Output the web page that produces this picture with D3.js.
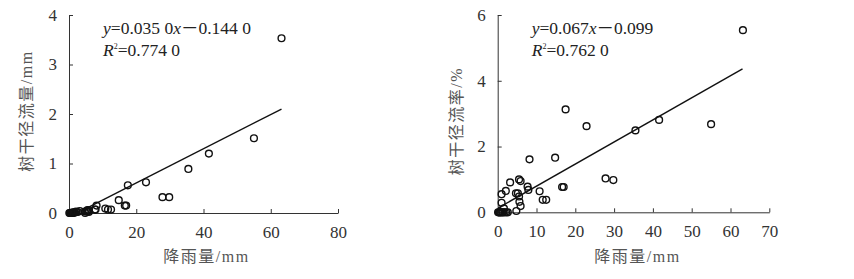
<!DOCTYPE html>
<html>
<head>
<meta charset="utf-8">
<script src="https://cdn.jsdelivr.net/npm/d3@7"></script>
<style>
  body { margin: 0; background: #fff; }
  svg text { font-family: "Liberation Serif", "Noto Sans CJK SC", serif; }
</style>
</head>
<body>
<div id="chart"></div>
<script>
// rainfall events (mm)
const rainfall = [63.2, 55.0, 41.6, 35.5, 22.9, 17.5, 14.8, 8.2, 16.6, 17.0,
  27.8, 29.8, 10.8, 11.6, 12.5, 7.7, 7.9, 5.5, 5.9, 3.2,
  2.1, 1.0, 1.0, 4.7, 5.2, 5.5, 5.6, 5.9, 4.8, 1.6,
  0.1, 0.3, 0.5, 0.7, 0.9, 1.2, 1.4, 1.8, 2.2, 2.6];
// left panel: stemflow (mm)
const stemflow = [3.53, 1.51, 1.20, 0.89, 0.62, 0.56, 0.26, 0.15, 0.15, 0.15,
  0.32, 0.32, 0.09, 0.07, 0.07, 0.07, 0.07, 0.06, 0.06, 0.04,
  0.03, 0.01, 0.01, 0.03, 0.03, 0.04, 0.03, 0.02, 0.00, 0.01,
  0, 0, 0, 0, 0, 0, 0.01, 0.01, 0.02, 0.02];
// right panel: stemflow rate (%)
const stemflowRate = [5.54, 2.68, 2.81, 2.49, 2.62, 3.13, 1.66, 1.61, 0.77, 0.77,
  1.03, 0.98, 0.64, 0.38, 0.38, 0.78, 0.68, 1.00, 0.95, 0.91,
  0.65, 0.55, 0.29, 0.58, 0.58, 0.48, 0.32, 0.19, 0.04, 0.12,
  0, 0, 0, 0, 0, 0, 0, 0, 0, 0];

// fitted lines as drawn (start / end)
const fitLeftX = [5.0, 63.2], fitLeftY = [0.09, 2.10];
const fitRightX = [0.1, 63.1], fitRightY = [0.13, 4.36];

const xTicksLeft = [0, 20, 40, 60, 80];
const yTicksLeft = [0, 1, 2, 3, 4];
const xTicksRight = [0, 10, 20, 30, 40, 50, 60, 70];
const yTicksRight = [0, 2, 4, 6];

const W = 854, H = 279;
const svg = d3.select("#chart").append("svg").attr("width", W).attr("height", H);

function panel(o) {
  const x = d3.scaleLinear().domain([0, o.xMax]).range([o.left, o.right]);
  const y = d3.scaleLinear().domain([0, o.yMax]).range([o.bottom, o.top]);
  const g = svg.append("g");

  const xAxis = g.append("g")
    .attr("transform", `translate(0,${o.bottom})`)
    .call(d3.axisBottom(x).tickValues(o.xTicks).tickFormat(d3.format("d"))
      .tickSizeInner(-4).tickSizeOuter(0).tickPadding(13));
  const yAxis = g.append("g")
    .attr("transform", `translate(${o.left},0)`)
    .call(d3.axisLeft(y).tickValues(o.yTicks).tickFormat(d3.format("d"))
      .tickSizeInner(-4).tickSizeOuter(0).tickPadding(12));
  [xAxis, yAxis].forEach(a => {
    a.select(".domain").attr("stroke", "#333").attr("stroke-width", 1);
    a.selectAll(".tick line").attr("stroke", "#333");
    a.selectAll("text").attr("font-size", 17).attr("fill", "#333")
      .attr("font-family", "Liberation Serif");
  });

  // fit line
  g.append("path")
    .datum(o.fitX.map((d, i) => [d, o.fitY[i]]))
    .attr("d", d3.line().x(d => x(d[0])).y(d => y(d[1])))
    .attr("stroke", "#111").attr("stroke-width", 1.4).attr("fill", "none");

  // points
  g.selectAll("circle.pt")
    .data(o.xs.map((d, i) => [d, o.ys[i]]))
    .join("circle")
    .attr("class", "pt")
    .attr("cx", d => x(d[0])).attr("cy", d => y(d[1]))
    .attr("r", 3.4)
    .attr("fill", "none").attr("stroke", "#111").attr("stroke-width", 1.4);

  // axis titles
  g.append("text")
    .attr("x", (o.left + o.right) / 2 + o.xtOff).attr("y", 262)
    .attr("text-anchor", "middle").attr("font-size", 16).attr("fill", "#555")
    .attr("letter-spacing", 1.5)
    .text(o.xTitle);
  g.append("text")
    .attr("transform", `translate(${o.ytX},${o.ytY}) rotate(-90)`)
    .attr("text-anchor", "middle").attr("font-size", 16).attr("fill", "#555")
    .attr("letter-spacing", 1.5)
    .text(o.yTitle);

  // equation
  const eq = g.append("text").attr("x", o.left + 34).attr("y", 34)
    .attr("font-size", 17.5).attr("fill", "#222");
  eq.append("tspan").attr("font-style", "italic").text("y");
  eq.append("tspan").text(o.eqA);
  eq.append("tspan").attr("font-style", "italic").text("x");
  eq.append("tspan").text(o.eqB);
  const r2 = g.append("text").attr("x", o.left + 34).attr("y", 56)
    .attr("font-size", 17.5).attr("fill", "#222");
  r2.append("tspan").attr("font-style", "italic").text("R");
  r2.append("tspan").attr("font-size", 8).attr("dy", -7).text("2");
  r2.append("tspan").attr("dy", 7).text(o.r2);
}

panel({
  left: 69, right: 338, top: 15, bottom: 213, xMax: 80, yMax: 4,
  xTicks: xTicksLeft, yTicks: yTicksLeft,
  xs: rainfall, ys: stemflow, fitX: fitLeftX, fitY: fitLeftY,
  xTitle: "降雨量/mm", xtOff: 3, yTitle: "树干径流量/mm", ytX: 32, ytY: 111,
  eqA: "=0.035 0", eqB: "－0.144 0", r2: "=0.774 0"
});
panel({
  left: 497.7, right: 769.3, top: 15, bottom: 212.3, xMax: 70, yMax: 6,
  xTicks: xTicksRight, yTicks: yTicksRight,
  xs: rainfall, ys: stemflowRate, fitX: fitRightX, fitY: fitRightY,
  xTitle: "降雨量/mm", xtOff: 4, yTitle: "树干径流率/%", ytX: 462, ytY: 121,
  eqA: "=0.067", eqB: "－0.099", r2: "=0.762 0"
});
</script>
</body>
</html>
